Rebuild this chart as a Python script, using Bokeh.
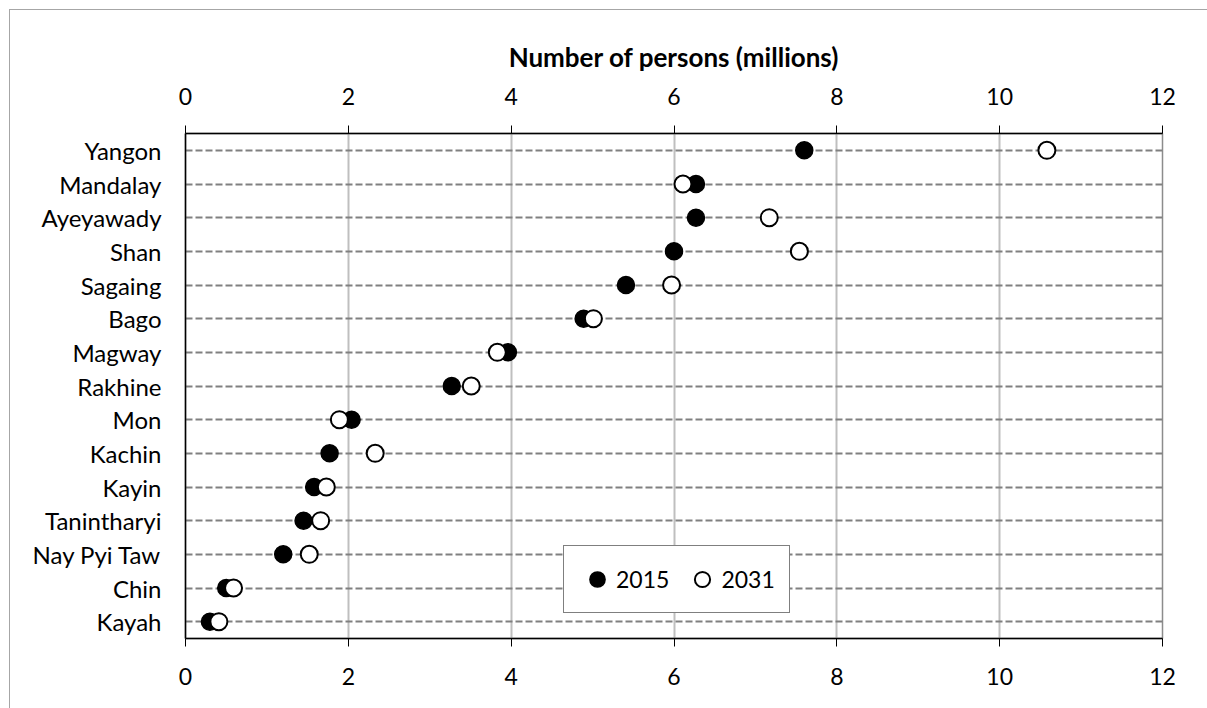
from bokeh.plotting import figure
from bokeh.models import LinearAxis, FactorRange, Range1d, FixedTicker, Legend, LegendItem, ColumnDataSource
from bokeh.embed import file_html
from bokeh.resources import INLINE

regions = ["Yangon", "Mandalay", "Ayeyawady", "Shan", "Sagaing", "Bago", "Magway",
           "Rakhine", "Mon", "Kachin", "Kayin", "Tanintharyi", "Nay Pyi Taw", "Chin", "Kayah"]
pop_2015 = [7.60, 6.27, 6.27, 6.00, 5.41, 4.89, 3.96, 3.27, 2.04, 1.77, 1.58, 1.45, 1.20, 0.50, 0.30]
pop_2031 = [10.58, 6.11, 7.17, 7.54, 5.97, 5.01, 3.83, 3.51, 1.89, 2.33, 1.73, 1.66, 1.52, 0.59, 0.41]
x_ticks = [0, 2, 4, 6, 8, 10, 12]
series_labels = ["2015", "2031"]
axis_title = "Number of persons (millions)"

FONT = "Lato"

p = figure(width=1200, height=700, output_backend="svg", toolbar_location=None,
           x_range=Range1d(x_ticks[0], x_ticks[-1]),
           y_range=FactorRange(factors=list(reversed(regions))),
           x_axis_location="below",
           min_border_left=175, min_border_right=48, min_border_top=123, min_border_bottom=72)
p.styles = {"border-top": "1px solid #a6a6a6", "border-left": "1px solid #a6a6a6",
            "margin-left": "9px", "margin-top": "9px"}

top_axis = LinearAxis(axis_label=axis_title)
p.add_layout(top_axis, "above")

for ax in p.xaxis:
    ax.ticker = FixedTicker(ticks=x_ticks)
    ax.major_label_text_font = FONT
    ax.major_label_text_font_size = "23px"
    ax.major_label_text_color = "black"
    ax.axis_line_color = "black"
    ax.axis_line_width = 1.5
    ax.major_tick_line_color = "black"
    ax.major_tick_line_width = 1
    ax.major_tick_in = 0
    ax.major_tick_out = 8
    ax.minor_tick_line_color = None
    ax.major_label_standoff = 21
top_axis.axis_label_text_font = FONT
top_axis.axis_label_text_font_style = "bold"
top_axis.axis_label_text_font_size = "26px"
top_axis.axis_label_text_color = "black"
top_axis.axis_label_standoff = 12

ya = p.yaxis[0]
ya.major_label_text_font = FONT
ya.major_label_text_font_size = "24px"
ya.major_label_text_color = "black"
ya.axis_line_color = "black"
ya.axis_line_width = 1.5
ya.major_tick_line_color = None
ya.minor_tick_line_color = None
ya.major_label_standoff = 18

p.xgrid.ticker = FixedTicker(ticks=x_ticks)
p.xgrid.grid_line_color = "#bfbfbf"
p.xgrid.grid_line_width = 2
p.ygrid.grid_line_color = "#808080"
p.ygrid.grid_line_width = 2
p.ygrid.grid_line_dash = "7 3"

p.outline_line_color = "#8c8c8c"
p.outline_line_width = 1.5
p.background_fill_color = "white"
p.border_fill_color = "white"

src = ColumnDataSource(dict(region=regions, v2015=pop_2015, v2031=pop_2031))
r1 = p.scatter(x="v2015", y="region", source=src, marker="circle", size=17,
               fill_color="black", line_color="black", line_width=1.5)
r2 = p.scatter(x="v2031", y="region", source=src, marker="circle", size=17,
               fill_color="white", line_color="black", line_width=2)

legend = Legend(items=[LegendItem(label=series_labels[0], renderers=[r1]),
                       LegendItem(label=series_labels[1], renderers=[r2])],
                location=(378, 25), orientation="horizontal",
                glyph_width=38, glyph_height=38, padding=14, spacing=14, label_standoff=-5,
                label_text_font=FONT, label_text_font_size="23px", label_text_color="black",
                border_line_color="black", border_line_width=1,
                background_fill_color="white", background_fill_alpha=1, margin=0)
p.add_layout(legend)

open("out.html", "w").write(file_html(p, INLINE))
